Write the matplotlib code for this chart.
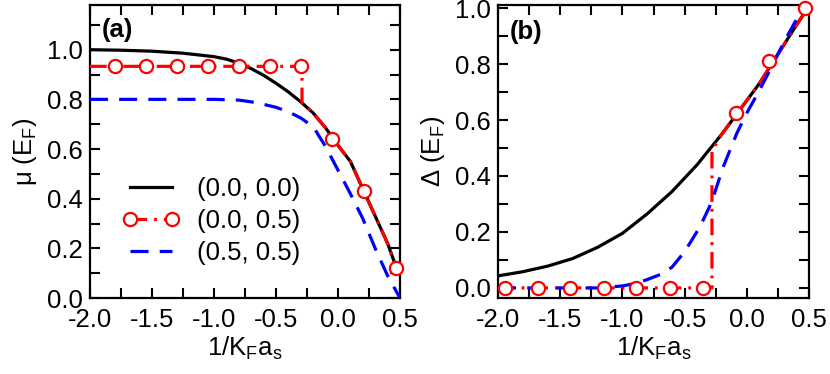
import matplotlib
matplotlib.use("Agg")
import matplotlib.pyplot as plt
from matplotlib.lines import Line2D
from matplotlib.ticker import MultipleLocator

plt.rcParams['font.family'] = ['Liberation Sans', 'DejaVu Sans']
plt.rcParams['mathtext.fontset'] = 'custom'
plt.rcParams['mathtext.rm'] = 'Liberation Sans'
plt.rcParams['mathtext.it'] = 'Liberation Sans:italic'
plt.rcParams['mathtext.default'] = 'regular'
plt.rcParams['lines.scale_dashes'] = False

# ---------------- data: panel (a) mu ----------------
a_black_x = [-2.0, -1.75, -1.5, -1.25, -1.0, -0.9, -0.8, -0.7, -0.6, -0.5, -0.4, -0.3,
             -0.2, -0.1, 0.0, 0.1, 0.2, 0.3, 0.4, 0.48]
a_black_y = [1.0, 0.998, 0.994, 0.986, 0.972, 0.962, 0.946, 0.924, 0.897, 0.865, 0.83, 0.79,
             0.745, 0.685, 0.615, 0.55, 0.44, 0.33, 0.22, 0.11]

a_blue_x = [-2.0, -1.5, -1.0, -0.8, -0.7, -0.6, -0.5, -0.4, -0.3, -0.2, -0.1, 0.0,
            0.1, 0.2, 0.3, 0.4, 0.5]
a_blue_y = [0.80, 0.80, 0.80, 0.797, 0.79, 0.78, 0.768, 0.75, 0.725, 0.69, 0.61, 0.515,
            0.42, 0.32, 0.20, 0.09, 0.0]

a_red_x = [-2.0, -0.29, -0.29, -0.2, -0.1, 0.0, 0.1, 0.2, 0.3, 0.4, 0.47]
a_red_y = [0.933, 0.933, 0.786, 0.745, 0.685, 0.615, 0.55, 0.44, 0.33, 0.22, 0.12]
a_mark_x = [-1.8, -1.55, -1.3, -1.05, -0.8, -0.55, -0.3, -0.05, 0.21, 0.47]
a_mark_y = [0.933, 0.933, 0.933, 0.933, 0.933, 0.933, 0.933, 0.64, 0.43, 0.12]

# ---------------- data: panel (b) Delta ----------------
b_black_x = [-2.0, -1.8, -1.6, -1.4, -1.2, -1.0, -0.8, -0.6, -0.4, -0.3, -0.2, -0.1,
             0.0, 0.1, 0.2, 0.3, 0.4, 0.49]
b_black_y = [0.043, 0.058, 0.078, 0.105, 0.145, 0.195, 0.265, 0.345, 0.44, 0.495, 0.55, 0.61,
             0.67, 0.73, 0.80, 0.87, 0.94, 1.0]

b_blue_x = [-2.0, -1.2, -1.0, -0.886, -0.8, -0.671, -0.6, -0.51, -0.45, -0.376, -0.3, -0.269,
            -0.189, -0.081, 0.0, 0.1, 0.2, 0.3, 0.4, 0.47]
b_blue_y = [0.0, 0.0, 0.007, 0.017, 0.03, 0.052, 0.075, 0.124, 0.165, 0.219, 0.29, 0.326,
            0.433, 0.552, 0.625, 0.705, 0.79, 0.88, 0.96, 1.0]

b_red_x = [-2.0, -0.28, -0.28, -0.2, -0.1, 0.0, 0.1, 0.2, 0.3, 0.4, 0.49]
b_red_y = [0.0, 0.0, 0.49, 0.55, 0.61, 0.67, 0.73, 0.80, 0.87, 0.94, 1.0]
b_mark_x = [-1.94, -1.68, -1.42, -1.15, -0.89, -0.62, -0.355, -0.087, 0.18, 0.47]
b_mark_y = [0.0, 0.0, 0.0, 0.0, 0.0, 0.0, 0.0, 0.625, 0.81, 1.0]

legend_labels = ['(0.0, 0.0)', '(0.0, 0.5)', '(0.5, 0.5)']
xticks = [-2.0, -1.5, -1.0, -0.5, 0.0, 0.5]
yticks = [0.0, 0.2, 0.4, 0.6, 0.8, 1.0]

LW = 2.3
dash_blue = (0, (13, 8))
dash_red = (0, (12, 5, 2, 5))
FS = 18.5

fig = plt.figure(figsize=(8.3, 3.74), dpi=100)
axa = fig.add_axes([0.1084, 0.2032, 0.3735, 0.7834])
axb = fig.add_axes([0.600, 0.2032, 0.3747, 0.7834])


def style(ax, ylim):
    ax.set_xlim(-2.0, 0.5)
    ax.set_ylim(*ylim)
    ax.set_xticks(xticks)
    ax.set_xticklabels(['%.1f' % v for v in xticks])
    ax.set_yticks(yticks)
    ax.set_yticklabels(['%.1f' % v for v in yticks])
    ax.xaxis.set_minor_locator(MultipleLocator(0.25))
    ax.yaxis.set_minor_locator(MultipleLocator(0.1))
    ax.tick_params(which='both', direction='in', top=True, right=True,
                   length=7, width=1.5, labelsize=FS)
    ax.tick_params(axis='x', pad=7)
    ax.tick_params(axis='y', pad=5)
    for s in ax.spines.values():
        s.set_linewidth(1.6)
    ax.set_xlabel('1/K$_F$a$_s$', fontsize=FS, labelpad=2)


def draw(ax, bx, by, blx, bly, rx, ry, mx, my):
    ax.plot(bx, by, color='black', lw=LW, zorder=2)
    ax.plot(rx, ry, color='red', lw=LW, ls=dash_red, zorder=3)
    ax.plot(blx, bly, color='blue', lw=LW, ls=dash_blue, zorder=4)
    ax.plot(mx, my, ls='none', marker='o', ms=9.5, mfc='white', mec='red',
            mew=1.6, zorder=5, clip_on=False)


draw(axa, a_black_x, a_black_y, a_blue_x, a_blue_y, a_red_x, a_red_y, a_mark_x, a_mark_y)
style(axa, (0.0, 1.18))
axa.set_ylabel('μ (E$_F$)', fontsize=FS, labelpad=6)
axa.text(0.038, 0.956, '(a)', transform=axa.transAxes, fontsize=FS, fontweight='bold',
         va='top', ha='left')

draw(axb, b_black_x, b_black_y, b_blue_x, b_blue_y, b_red_x, b_red_y, b_mark_x, b_mark_y)
style(axb, (-0.036, 1.011))
axb.set_ylabel('Δ (E$_F$)', fontsize=FS, labelpad=6)
axb.text(0.039, 0.949, '(b)', transform=axb.transAxes, fontsize=FS, fontweight='bold',
         va='top', ha='left')

handles = [
    Line2D([], [], color='black', lw=LW),
    Line2D([], [], color='red', lw=LW, ls=dash_red, marker='o', ms=9.5, mfc='white',
           mec='red', mew=1.6),
    Line2D([], [], color='blue', lw=LW, ls=dash_blue),
]
axa.legend(handles, legend_labels, loc='center left', bbox_to_anchor=(0.103, 0.263),
           frameon=False, fontsize=FS, handlelength=2.26, handletextpad=0.66,
           labelspacing=0.3, borderpad=0, borderaxespad=0, numpoints=2)

fig.savefig('out.png', dpi=100)
